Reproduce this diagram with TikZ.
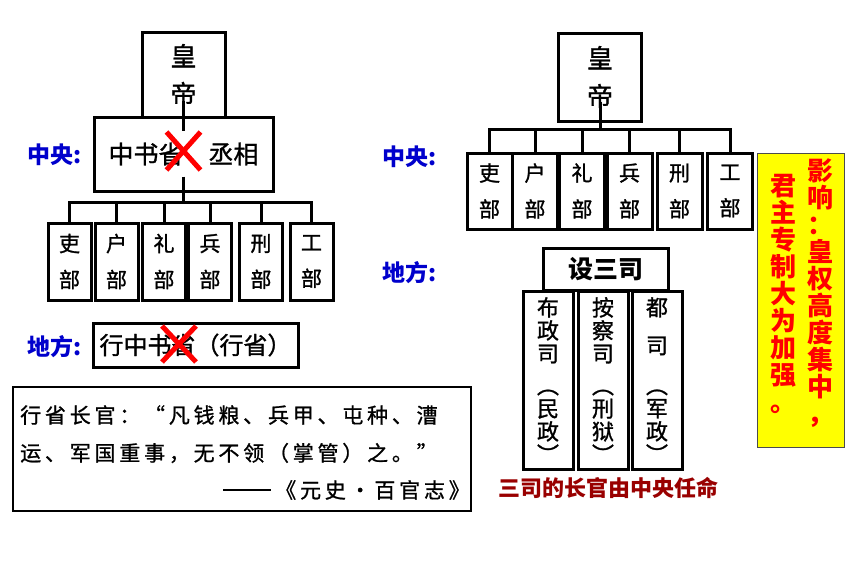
\documentclass[tikz,border=0pt]{standalone}
\usepackage{fontspec}
\setmainfont{Noto Sans CJK SC}
\usepackage{tikz}
\definecolor{zhblue}{RGB}{0,0,204}
\definecolor{zhred}{RGB}{255,0,0}
\definecolor{zhyellow}{RGB}{255,255,0}
\definecolor{zhdark}{RGB}{153,0,0}
\newcommand{\heavy}{\addfontfeature{FakeBold=1.2}}
\tikzset{
    box/.style={draw, line width=3pt, inner sep=0pt, align=center},
    emp/.style={box, minimum width=83pt, minimum height=85pt,
    	font=\fontsize{26}{38}\selectfont\heavy},
    dept/.style={box, minimum width=43pt, minimum height=77pt,
    	font=\fontsize{21}{36}\selectfont\heavy},
    sisi/.style={box, minimum width=50pt, minimum height=178pt,
    	font=\fontsize{22}{23}\selectfont\heavy},
    lbl/.style={inner sep=0pt, anchor=west, text=zhblue,
    	font=\bfseries\fontsize{23}{23}\selectfont},
    quot/.style={inner sep=0pt,
    	font=\fontsize{21}{21}\selectfont\addfontfeature{LetterSpace=18,FakeBold=1}},
    yell/.style={inner sep=0pt, align=center, text=zhred,
    	font=\bfseries\fontsize{26}{27}\selectfont},
    link/.style={line width=3pt},
    cross/.style={draw=zhred, line width=5pt}
}

\begin{document}
\begin{tikzpicture}[x=1pt,y=-1pt]
  \useasboundingbox (0,0) rectangle (860,573);

  % left: 中书省
  \node (em1) [emp] at (183.5,75) {皇\\帝};
  \node (zs) [box, minimum width=179pt, minimum height=74pt,
  	font=\fontsize{25}{25}\selectfont\heavy] at (183.5,154) {中书省　丞相};
  \node (b1) [dept] at (69.5,261.5) {吏\\部};
  \node (b2) [dept] at (116.5,261.5) {户\\部};
  \node (b3) [dept] at (164,261.5) {礼\\部};
  \node (b4) [dept] at (210,261.5) {兵\\部};
  \node (b5) [dept] at (261,261.5) {刑\\部};
  \node (b6) [dept] at (311.5,261.5) {工\\部};
  \coordinate (bl) at (0,202);

  \node (l1) [lbl] at (27,155) {中央:};
  \node (l2) [lbl] at (27,347) {地方:};
  \node (xs) [box, minimum width=205pt, minimum height=44pt,
  	font=\fontsize{24}{24}\selectfont\heavy] at (195.5,345) {行中书省（行省）};

  \draw[link] ([yshift=18pt]em1.south) -- ([yshift=-15pt]zs.north);
  \draw[link] ([yshift=16pt]zs.south) -- (zs.south |- bl);
  \draw[link] (b1.north) -- (b1.north |- bl) -- (b6.north |- bl) -- (b6.north);
  \draw[link] (b2.north) -- (b2.north |- bl);
  \draw[link] (b3.north) -- (b3.north |- bl);
  \draw[link] (b4.north) -- (b4.north |- bl);
  \draw[link] (b5.north) -- (b5.north |- bl);

  \coordinate (x1) at (183.5,151);
  \coordinate (x2) at (179,344);
  \draw[cross] ([shift={(-17,-19)}]x1) -- ([shift={(17,19)}]x1);
  \draw[cross] ([shift={(17,-19)}]x1) -- ([shift={(-17,19)}]x1);
  \draw[cross] ([shift={(-17,-18)}]x2) -- ([shift={(17,18)}]x2);
  \draw[cross] ([shift={(17,-18)}]x2) -- ([shift={(-17,18)}]x2);

  % quote
  \node (qb) [draw, line width=2pt, minimum width=458pt, minimum height=124pt]
  	at (242,449) {};
  \node (q1) [quot, anchor=west] at (20,415) {行省长官：“凡钱粮、兵甲、屯种、漕};
  \node (q2) [quot, anchor=west] at (20,453) {运、军国重事，无不领（掌管）之。”};
  \node (q3) [quot, anchor=east] at (470,490)
  	{\rule[7pt]{48pt}{1.6pt}\hspace{4pt}《元史・百官志》};

  % right: 六部
  \node (em2) [emp, minimum height=88pt] at (600,77) {皇\\帝};
  \node (c1) [dept, minimum width=45pt, minimum height=76pt] at (489.5,191) {吏\\部};
  \node (c2) [dept, minimum width=45pt, minimum height=76pt] at (535,191) {户\\部};
  \node (c3) [dept, minimum width=45pt, minimum height=76pt] at (582,191) {礼\\部};
  \node (c4) [dept, minimum width=45pt, minimum height=76pt] at (629.5,191) {兵\\部};
  \node (c5) [dept, minimum width=45pt, minimum height=76pt] at (679.5,191) {刑\\部};
  \node (c6) [dept, minimum width=45pt, minimum height=76pt] at (730,191) {工\\部};
  \coordinate (br) at (0,129);

  \node (r1) [lbl] at (382,157) {中央:};
  \node (r2) [lbl] at (382,273) {地方:};

  \draw[link] ([yshift=21pt]em2.south) -- (em2.south |- br);
  \draw[link] (c1.north) -- (c1.north |- br) -- (c6.north |- br) -- (c6.north);
  \draw[link] (c2.north) -- (c2.north |- br);
  \draw[link] (c3.north) -- (c3.north |- br);
  \draw[link] (c4.north) -- (c4.north |- br);
  \draw[link] (c5.north) -- (c5.north |- br);

  \node (ss) [box, minimum width=125pt, minimum height=42pt,
  	font=\bfseries\fontsize{25}{25}\selectfont] at (605.5,269) {设三司};
  \node (s1) [sisi] at (548,380) {布\\政\\司\\[9pt]︵\\民\\政\\︶};
  \node (s2) [sisi] at (603,380) {按\\察\\司\\[9pt]︵\\刑\\狱\\︶};
  \node (s3) [sisi] at (657,380) {都\\[15pt]司\\[17pt]︵\\军\\政\\︶};
  \node (rn) [inner sep=0pt, text=zhdark, font=\bfseries\fontsize{22}{22}\selectfont]
  	at (608,488) {三司的长官由中央任命};

  % 影响
  \node (yb) [draw=black!70, line width=1pt, fill=zhyellow,
  	minimum width=87pt, minimum height=294pt] at (800.5,300) {};
  \node (y1) [yell] at (820,293) {影\\响\\：\\皇\\权\\高\\度\\集\\中\\，};
  \node (y2) [yell] at (783,294) {君\\主\\专\\制\\大\\为\\加\\强\\。};
\end{tikzpicture}
\end{document}
